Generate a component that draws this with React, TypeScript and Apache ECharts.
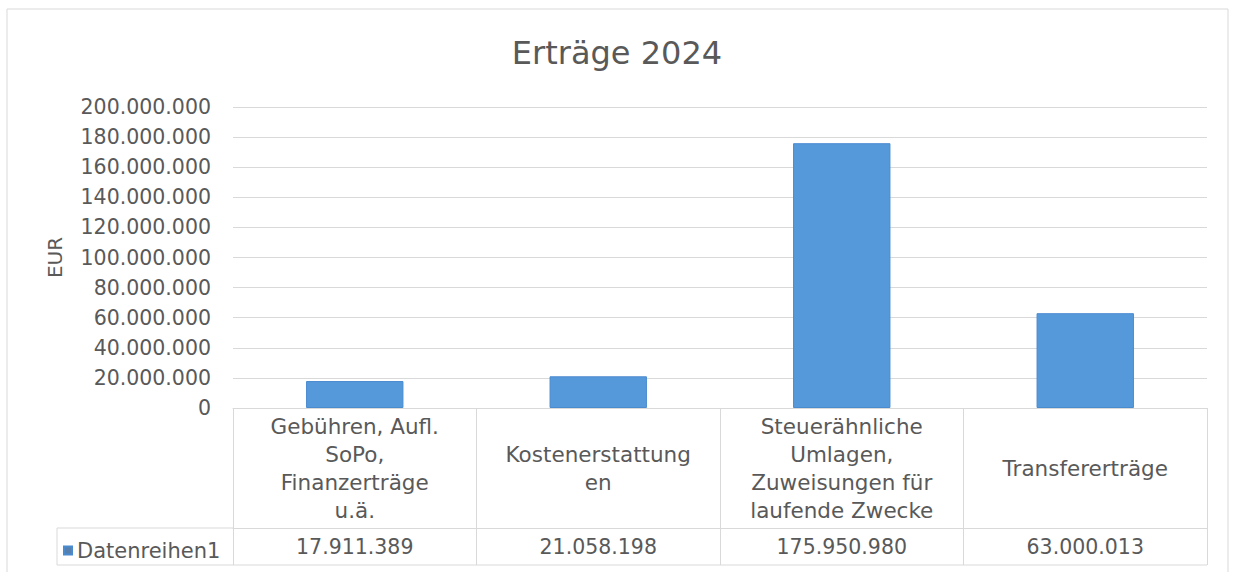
import React, { useEffect, useRef } from "react";
import * as echarts from "echarts";

const title = "Erträge 2024";
const seriesName = "Datenreihen1";
const categories = [
  "Gebühren, Aufl.\nSoPo,\nFinanzerträge\nu.ä.",
  "Kostenerstattung\nen",
  "Steuerähnliche\nUmlagen,\nZuweisungen für\nlaufende Zwecke",
  "Transfererträge",
];
const values = [17911389, 21058198, 175950980, 63000013];
const yMin = 0;
const yMax = 200000000;
const yInterval = 20000000;
const yAxisName = "EUR";

const fmt = (v: number) => String(Math.round(v)).replace(/\B(?=(\d{3})+(?!\d))/g, ".");

const FONT = "DejaVu Sans";
const TEXT = "#595959";
const LINE = "#d9d9d9";

export default function App() {
  const ref = useRef<HTMLDivElement>(null);
  useEffect(() => {
    if (!ref.current) return;
    const chart = echarts.init(ref.current, null, { renderer: "svg" });
    chart.setOption({
      animation: false,
      backgroundColor: "#ffffff",
      title: {
        text: title,
        left: "center",
        top: 32,
        textStyle: { fontFamily: FONT, fontSize: 32, fontWeight: "normal", color: TEXT },
      },
      legend: {
        left: 58,
        top: 535,
        icon: "rect",
        itemWidth: 8,
        itemHeight: 8,
        itemGap: 4,
        data: [{ name: seriesName, itemStyle: { color: "#557fae" } }],
        textStyle: { fontFamily: FONT, fontSize: 21, color: TEXT, padding: [0, 0, 0, 0] },
      },
      grid: { left: 233, right: 27, top: 107, bottom: 164, containLabel: false },
      xAxis: [
        {
          type: "category",
          data: categories,
          position: "bottom",
          axisLine: { show: true, lineStyle: { color: LINE, width: 1 } },
          axisTick: { show: true, length: 120, lineStyle: { color: LINE, width: 1 } },
          axisLabel: {
            interval: 0,
            margin: 60,
            verticalAlign: "middle",
            lineHeight: 28,
            fontFamily: FONT,
            fontSize: 21.5,
            color: TEXT,
          },
        },
        {
          type: "category",
          data: values.map(fmt),
          position: "bottom",
          offset: 120,
          axisLine: { show: true, lineStyle: { color: LINE, width: 1 } },
          axisTick: { show: true, length: 37, lineStyle: { color: LINE, width: 1 } },
          axisLabel: {
            interval: 0,
            margin: 19,
            verticalAlign: "middle",
            fontFamily: FONT,
            fontSize: 20.5,
            color: TEXT,
          },
        },
      ],
      yAxis: {
        type: "value",
        min: yMin,
        max: yMax,
        interval: yInterval,
        name: yAxisName,
        nameLocation: "middle",
        nameRotate: 90,
        nameGap: 168,
        nameTextStyle: { fontFamily: FONT, fontSize: 20, color: TEXT },
        axisLine: { show: false },
        axisTick: { show: false },
        splitLine: { show: true, lineStyle: { color: LINE, width: 1 } },
        axisLabel: {
          margin: 22,
          fontFamily: FONT,
          fontSize: 20.5,
          color: TEXT,
          formatter: (v: number) => fmt(v),
        },
      },
      series: [
        {
          name: seriesName,
          type: "bar",
          xAxisIndex: 0,
          data: values,
          barWidth: "40%",
          itemStyle: { color: "#5699da", borderColor: "#4a8bd0", borderWidth: 1 },
        },
      ],
      graphic: [
        {
          type: "rect",
          shape: { x: 7, y: 9, width: 1221, height: 600 },
          style: { fill: "none", stroke: LINE, lineWidth: 1 },
          silent: true,
        },
        {
          type: "line",
          shape: { x1: 57, y1: 528, x2: 233, y2: 528 },
          style: { stroke: LINE, lineWidth: 1 },
        },
        {
          type: "line",
          shape: { x1: 57, y1: 565, x2: 1207, y2: 565 },
          style: { stroke: LINE, lineWidth: 1 },
        },
        {
          type: "line",
          shape: { x1: 57, y1: 528, x2: 57, y2: 565 },
          style: { stroke: LINE, lineWidth: 1 },
        },
      ],
    });
    return () => chart.dispose();
  }, []);
  return (
    <div
      ref={ref}
      style={{ position: "fixed", left: 0, top: 0, width: 1234, height: 572, background: "#fff" }}
    />
  );
}
